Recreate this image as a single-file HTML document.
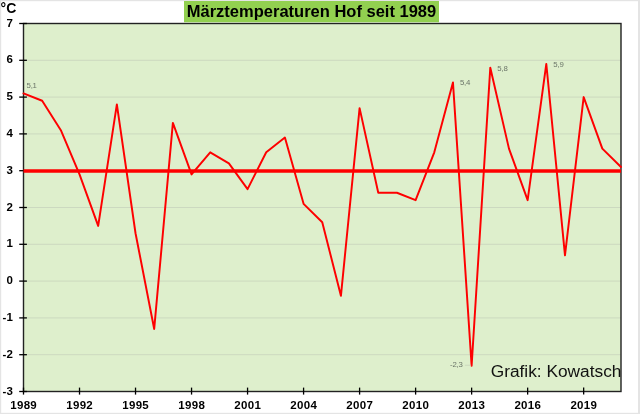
<!DOCTYPE html>
<html><head><meta charset="utf-8"><title>Märztemperaturen Hof seit 1989</title>
<style>
html,body{margin:0;padding:0;background:#fff;}
body{width:640px;height:414px;overflow:hidden;font-family:"Liberation Sans",sans-serif;}
svg{display:block;}
text{font-family:"Liberation Sans",sans-serif;}
.ax{font-size:11.5px;font-weight:bold;fill:#000;}
.dl{font-size:7.8px;fill:#6b7568;letter-spacing:-0.2px;}
</style></head><body>
<svg width="640" height="414" viewBox="0 0 640 414" style="will-change:transform">
<rect x="0" y="0" width="640" height="414" fill="#fff"/>
<!-- outer frame -->
<rect x="0" y="0" width="640" height="1.2" fill="#e4e4e4"/>
<rect x="0" y="0" width="1.2" height="414" fill="#e4e4e4"/>
<rect x="638" y="0" width="2" height="414" fill="#e4e4e4"/>
<rect x="0" y="412.8" width="640" height="1.2" fill="#e4e4e4"/>
<!-- plot area -->
<rect x="23.5" y="23.5" width="597.5" height="368.0" fill="#deefcc"/>

<line x1="23.5" x2="621.0" y1="354.70" y2="354.70" stroke="#c8d3bd" stroke-width="0.8"/>
<line x1="23.5" x2="621.0" y1="317.90" y2="317.90" stroke="#c8d3bd" stroke-width="0.8"/>
<line x1="23.5" x2="621.0" y1="281.10" y2="281.10" stroke="#c8d3bd" stroke-width="0.8"/>
<line x1="23.5" x2="621.0" y1="244.30" y2="244.30" stroke="#c8d3bd" stroke-width="0.8"/>
<line x1="23.5" x2="621.0" y1="207.50" y2="207.50" stroke="#c8d3bd" stroke-width="0.8"/>
<line x1="23.5" x2="621.0" y1="170.70" y2="170.70" stroke="#c8d3bd" stroke-width="0.8"/>
<line x1="23.5" x2="621.0" y1="133.90" y2="133.90" stroke="#c8d3bd" stroke-width="0.8"/>
<line x1="23.5" x2="621.0" y1="97.10" y2="97.10" stroke="#c8d3bd" stroke-width="0.8"/>
<line x1="23.5" x2="621.0" y1="60.30" y2="60.30" stroke="#c8d3bd" stroke-width="0.8"/>
<rect x="23.5" y="23.5" width="597.5" height="368.0" fill="none" stroke="#222" stroke-width="1.4"/>
<line x1="19.2" x2="26.9" y1="391.50" y2="391.50" stroke="#000" stroke-width="1.3"/>
<text class="ax" x="12.8" y="394.60" text-anchor="end">-3</text>
<line x1="19.2" x2="26.9" y1="354.70" y2="354.70" stroke="#000" stroke-width="1.3"/>
<text class="ax" x="12.8" y="357.80" text-anchor="end">-2</text>
<line x1="19.2" x2="26.9" y1="317.90" y2="317.90" stroke="#000" stroke-width="1.3"/>
<text class="ax" x="12.8" y="321.00" text-anchor="end">-1</text>
<line x1="19.2" x2="26.9" y1="281.10" y2="281.10" stroke="#000" stroke-width="1.3"/>
<text class="ax" x="12.8" y="284.20" text-anchor="end">0</text>
<line x1="19.2" x2="26.9" y1="244.30" y2="244.30" stroke="#000" stroke-width="1.3"/>
<text class="ax" x="12.8" y="247.40" text-anchor="end">1</text>
<line x1="19.2" x2="26.9" y1="207.50" y2="207.50" stroke="#000" stroke-width="1.3"/>
<text class="ax" x="12.8" y="210.60" text-anchor="end">2</text>
<line x1="19.2" x2="26.9" y1="170.70" y2="170.70" stroke="#000" stroke-width="1.3"/>
<text class="ax" x="12.8" y="173.80" text-anchor="end">3</text>
<line x1="19.2" x2="26.9" y1="133.90" y2="133.90" stroke="#000" stroke-width="1.3"/>
<text class="ax" x="12.8" y="137.00" text-anchor="end">4</text>
<line x1="19.2" x2="26.9" y1="97.10" y2="97.10" stroke="#000" stroke-width="1.3"/>
<text class="ax" x="12.8" y="100.20" text-anchor="end">5</text>
<line x1="19.2" x2="26.9" y1="60.30" y2="60.30" stroke="#000" stroke-width="1.3"/>
<text class="ax" x="12.8" y="63.40" text-anchor="end">6</text>
<line x1="19.2" x2="26.9" y1="23.50" y2="23.50" stroke="#000" stroke-width="1.3"/>
<text class="ax" x="12.8" y="26.60" text-anchor="end">7</text>
<line x1="23.50" x2="23.50" y1="387.6" y2="394.6" stroke="#000" stroke-width="1.3"/>
<text class="ax" x="23.65" y="409.4" text-anchor="middle" style="letter-spacing:0.3px">1989</text>
<line x1="79.52" x2="79.52" y1="387.6" y2="394.6" stroke="#000" stroke-width="1.3"/>
<text class="ax" x="79.67" y="409.4" text-anchor="middle" style="letter-spacing:0.3px">1992</text>
<line x1="135.53" x2="135.53" y1="387.6" y2="394.6" stroke="#000" stroke-width="1.3"/>
<text class="ax" x="135.68" y="409.4" text-anchor="middle" style="letter-spacing:0.3px">1995</text>
<line x1="191.55" x2="191.55" y1="387.6" y2="394.6" stroke="#000" stroke-width="1.3"/>
<text class="ax" x="191.70" y="409.4" text-anchor="middle" style="letter-spacing:0.3px">1998</text>
<line x1="247.56" x2="247.56" y1="387.6" y2="394.6" stroke="#000" stroke-width="1.3"/>
<text class="ax" x="247.71" y="409.4" text-anchor="middle" style="letter-spacing:0.3px">2001</text>
<line x1="303.58" x2="303.58" y1="387.6" y2="394.6" stroke="#000" stroke-width="1.3"/>
<text class="ax" x="303.73" y="409.4" text-anchor="middle" style="letter-spacing:0.3px">2004</text>
<line x1="359.59" x2="359.59" y1="387.6" y2="394.6" stroke="#000" stroke-width="1.3"/>
<text class="ax" x="359.74" y="409.4" text-anchor="middle" style="letter-spacing:0.3px">2007</text>
<line x1="415.61" x2="415.61" y1="387.6" y2="394.6" stroke="#000" stroke-width="1.3"/>
<text class="ax" x="415.76" y="409.4" text-anchor="middle" style="letter-spacing:0.3px">2010</text>
<line x1="471.62" x2="471.62" y1="387.6" y2="394.6" stroke="#000" stroke-width="1.3"/>
<text class="ax" x="471.77" y="409.4" text-anchor="middle" style="letter-spacing:0.3px">2013</text>
<line x1="527.64" x2="527.64" y1="387.6" y2="394.6" stroke="#000" stroke-width="1.3"/>
<text class="ax" x="527.79" y="409.4" text-anchor="middle" style="letter-spacing:0.3px">2016</text>
<line x1="583.66" x2="583.66" y1="387.6" y2="394.6" stroke="#000" stroke-width="1.3"/>
<text class="ax" x="583.81" y="409.4" text-anchor="middle" style="letter-spacing:0.3px">2019</text>
<line x1="23.5" x2="621.0" y1="171.07" y2="171.07" stroke="#fe0000" stroke-width="3.6"/>
<polyline points="23.50,93.42 42.17,100.78 60.84,130.22 79.52,174.38 98.19,225.90 116.86,104.46 135.53,233.26 154.20,328.94 172.88,122.86 191.55,174.38 210.22,152.30 228.89,163.34 247.56,189.10 266.23,152.30 284.91,137.58 303.58,203.82 322.25,222.22 340.92,295.82 359.59,108.14 378.27,192.78 396.94,192.78 415.61,200.14 434.28,152.30 452.95,82.38 471.62,365.74 490.30,67.66 508.97,148.62 527.64,200.14 546.31,63.98 564.98,255.34 583.66,97.10 602.33,148.62 621.00,167.02" fill="none" stroke="#fe0000" stroke-width="1.95" stroke-linejoin="round" stroke-linecap="round"/>
<text class="dl" x="26.50" y="87.62" text-anchor="start">5,1</text>
<text class="dl" x="459.95" y="85.38" text-anchor="start">5,4</text>
<text class="dl" x="497.30" y="70.66" text-anchor="start">5,8</text>
<text class="dl" x="553.31" y="66.98" text-anchor="start">5,9</text>
<text class="dl" x="462.73" y="367.24" text-anchor="end">-2,3</text>
<line x1="464.93" x2="471.12" y1="365.24" y2="365.24" stroke="#c3ceb8" stroke-width="0.7"/>
<rect x="184" y="1" width="255" height="21.3" fill="#92d050"/>
<text x="311.5" y="17.2" text-anchor="middle" style="font-size:16.5px;font-weight:bold;fill:#000">Märztemperaturen Hof seit 1989</text>
<text x="0.6" y="13" style="font-size:14px;font-weight:bold;fill:#000">°C</text>
<text x="621.4" y="376.9" text-anchor="end" style="font-size:17.3px;fill:#111">Grafik: Kowatsch</text>
</svg></body></html>
